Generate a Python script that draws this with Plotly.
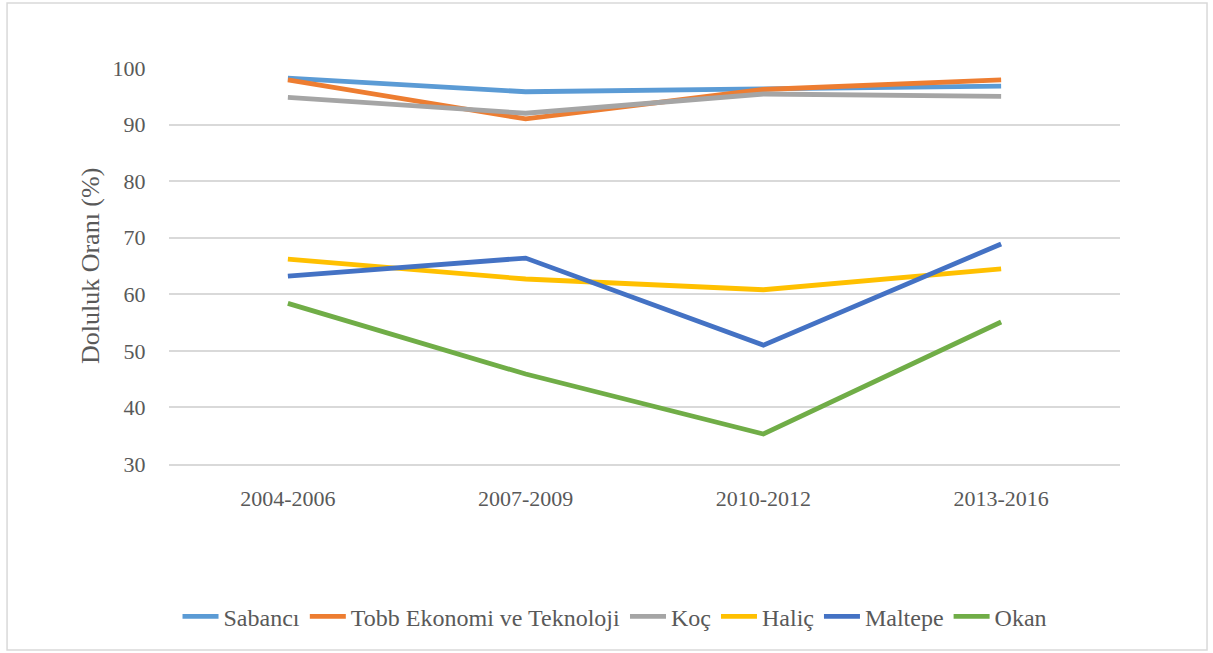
import plotly.graph_objects as go

# Period categories on the x axis
periods = ["2004-2006", "2007-2009", "2010-2012", "2013-2016"]

# Doluluk oranı (%) per university
sabanci = [98.2, 95.8, 96.3, 96.8]
tobb = [97.9, 91.0, 96.2, 97.9]
koc = [94.8, 92.0, 95.4, 95.0]
halic = [66.2, 62.7, 60.8, 64.5]
maltepe = [63.2, 66.4, 51.0, 68.9]
okan = [58.4, 45.9, 35.3, 55.1]

series = [
    ("Sabancı", sabanci, "#5B9BD5"),
    ("Tobb Ekonomi ve Teknoloji", tobb, "#ED7D31"),
    ("Koç", koc, "#A5A5A5"),
    ("Haliç", halic, "#FFC000"),
    ("Maltepe", maltepe, "#4472C4"),
    ("Okan", okan, "#70AD47"),
]

fig = go.Figure()

for name, vals, color in series:
    fig.add_trace(go.Scatter(
        x=periods,
        y=vals,
        mode="lines",
        name=name,
        line=dict(color=color, width=4.8),
    ))

font_family = "Liberation Serif"

# Axis title placed as annotation so it sits where Excel put it
fig.add_annotation(
    text="Doluluk Oranı (%)",
    xref="paper", yref="paper",
    x=-0.083, y=0.5,
    xanchor="center", yanchor="middle",
    textangle=-90,
    showarrow=False,
    font=dict(family=font_family, size=26, color="#595959"),
)

# Outer chart border
fig.add_shape(
    type="rect",
    xref="paper", yref="paper",
    x0=-0.1703, x1=1.0915, y0=-0.4697, y1=1.164,
    line=dict(color="#D9D9D9", width=1.5),
    fillcolor="rgba(0,0,0,0)",
    layer="below",
)

fig.update_layout(
    width=1213,
    height=653,
    paper_bgcolor="white",
    plot_bgcolor="white",
    margin=dict(l=169, r=93, t=68, b=189),
    font=dict(family=font_family, color="#595959"),
    showlegend=True,
    legend=dict(
        orientation="h",
        x=0.469, xanchor="center",
        y=-0.386, yanchor="middle",
        font=dict(family=font_family, size=24, color="#595959"),
        itemwidth=36,
    ),
    xaxis=dict(
        type="category",
        range=[-0.5, 3.5],
        showgrid=False,
        showline=True,
        linecolor="#D9D9D9",
        linewidth=1.5,
        ticks="outside",
        ticklen=14,
        tickcolor="rgba(0,0,0,0)",
        tickfont=dict(family=font_family, size=22, color="#595959"),
        fixedrange=True,
    ),
    yaxis=dict(
        range=[30, 100],
        dtick=10,
        showgrid=True,
        gridcolor="#D9D9D9",
        gridwidth=1.5,
        zeroline=False,
        ticks="outside",
        ticklen=18,
        tickcolor="rgba(0,0,0,0)",
        tickfont=dict(family=font_family, size=22, color="#595959"),
        fixedrange=True,
    ),
)

# drop the default page margin so the figure sits at the window origin
fig.write_html(
    "out.html",
    config={"displayModeBar": False},
    post_script="document.body.style.margin='0';",
)
